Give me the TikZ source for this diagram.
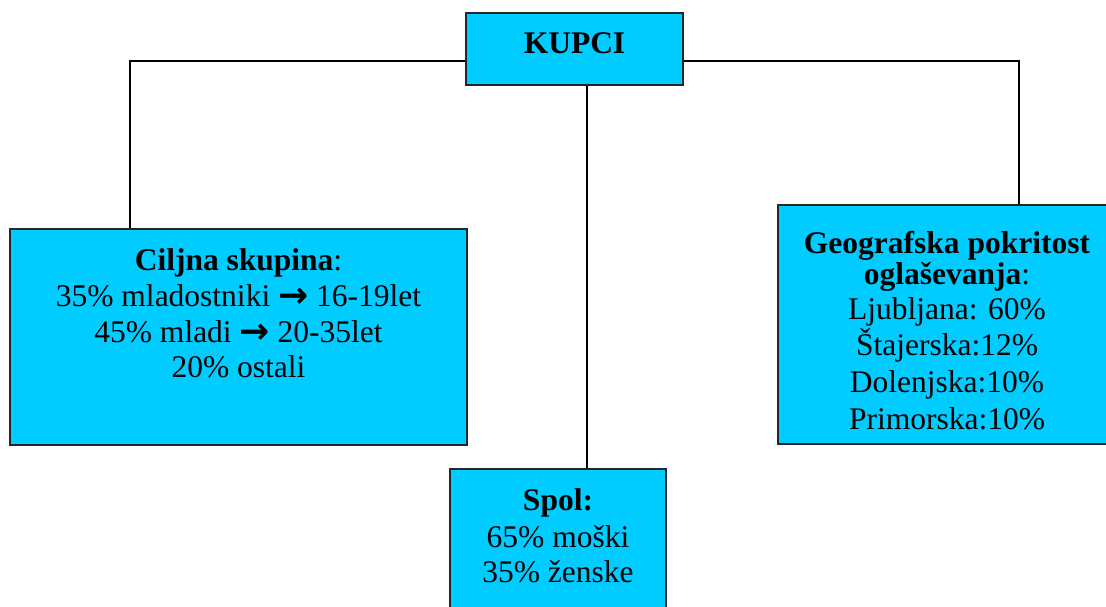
\documentclass[tikz,border=0pt]{standalone}
\usepackage{fontspec}
\setmainfont{Liberation Serif}
\newfontfamily\arrfont{DejaVu Sans}
\newcommand{\rarr}{{\arrfont\bfseries\fontsize{36}{36}\selectfont\raisebox{-1pt}{→}}}
\begin{document}
\begin{tikzpicture}[x=1pt,y=-1pt,
  box/.style={draw=black!85,line width=2pt,fill={rgb,255:red,0;green,204;blue,255},rectangle,inner sep=0pt},
  txt/.style={anchor=base,inner sep=0pt,font=\fontsize{31.5}{36}\selectfont},
  conn/.style={draw=black,line width=2pt}]
\useasboundingbox (0,0) rectangle (1106,607);
\node[box,minimum width=217pt,minimum height=72pt] (kupci) at (574.5,49) {};
\node[box,minimum width=457pt,minimum height=216pt] (ciljna) at (238.5,337) {};
\node[box,minimum width=338pt,minimum height=239pt] (geo) at (947,324.5) {};
\node[box,minimum width=216pt,minimum height=151pt] (spol) at (558,544.5) {};
% text
\node[txt] (t0) at (574.5,54) {\textbf{KUPCI}};
\node[txt] (t1) at (238.5,270.5) {\textbf{Ciljna skupina}:};
\node[txt] (t2) at (238.5,306.5) {35\% mladostniki \rarr{} 16-19let};
\node[txt] (t3) at (238.5,342) {45\% mladi \rarr{} 20-35let};
\node[txt] (t4) at (238.5,377.5) {20\% ostali};
\node[txt] (g1) at (947,253) {\textbf{Geografska pokritost}};
\node[txt] (g2) at (947,284) {\textbf{oglaševanja}:};
\node[txt] (g3) at (947,319) {Ljubljana: 60\%};
\node[txt] (g4) at (947,355.5) {Štajerska:12\%};
\node[txt] (g5) at (947,392) {Dolenjska:10\%};
\node[txt] (g6) at (947,429) {Primorska:10\%};
\node[txt] (s1) at (558,510) {\textbf{Spol:}};
\node[txt] (s2) at (558,547) {65\% moški};
\node[txt] (s3) at (558,582) {35\% ženske};
% connectors
\draw[conn] ([yshift=-12pt]kupci.west) -| ([xshift=-108.5pt]ciljna.north);
\draw[conn] ([yshift=-12pt]kupci.east) -| ([xshift=72pt]geo.north);
\draw[conn] ([xshift=12.5pt]kupci.south) -- ([xshift=12.5pt]kupci.south |- spol.north);
\end{tikzpicture}
\end{document}
